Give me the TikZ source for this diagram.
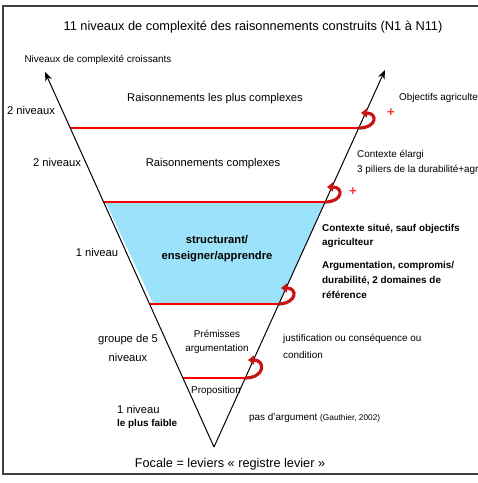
\documentclass[tikz,border=0pt]{standalone}
\usepackage{fontspec}
\setmainfont{Liberation Sans}
\usetikzlibrary{arrows.meta}
\definecolor{skyfill}{RGB}{155,226,250}
\definecolor{curlred}{RGB}{200,20,20}
\tikzset{
  frame/.style={draw=black!75, line width=1.3pt},
  axis/.style={draw=black, line width=1pt, -{Stealth[length=9pt,width=7pt]}},
  level/.style={draw=red, line width=2pt},
  curlarrow/.style={draw=curlred, line width=3.2pt, -{Triangle[length=6pt,width=9pt]}},
  plus/.style={text=red!80, font=\fontsize{13}{13}\selectfont\bfseries, inner sep=0pt},
  lbl/.style={inner sep=0pt, font=\fontsize{11.2}{13}\selectfont},
  small/.style={inner sep=0pt, font=\fontsize{9.9}{12}\selectfont},
  bsmall/.style={inner sep=0pt, font=\fontsize{9.9}{12}\selectfont\bfseries, anchor=west},
}
\begin{document}
\begin{tikzpicture}[x=1pt,y=-1pt]
\useasboundingbox (0,0) rectangle (478,483);
% frame
\draw[frame] (480,6) -- (3,6) -- (3,474) -- (480,474);
% key points
\coordinate (apex) at (214,447);
\coordinate (ltip) at (45,72);
\coordinate (rtip) at (385,70);
\coordinate (l1) at (70,128);   \coordinate (r1) at (359,128);
\coordinate (l2) at (104,202);  \coordinate (r2) at (325,202);
\coordinate (l3) at (150,304);  \coordinate (r3) at (279,304);
\coordinate (l4) at (183,378);  \coordinate (r4) at (245,378);
% blue band
\fill[skyfill] (106,203) -- (324,203) -- (279,303) -- (153,303) -- cycle;
% level lines
\draw[level] (l1) -- (r1);
\draw[level] (l2) -- (r2);
\draw[level] (l3) -- (r3);
\draw[level] (l4) -- (r4);
% axes
\draw[axis] (apex) -- (ltip);
\draw[axis] (apex) -- (rtip);
% curls
\draw[curlarrow] (r1) .. controls (377,128) and (378,113) .. (361,113);
\draw[curlarrow] (r2) .. controls (343,202) and (344,187) .. (327,187);
\draw[curlarrow] (r3) .. controls (297,303) and (298,288) .. (281,288);
\draw[curlarrow] (r4) .. controls (265,378) and (266,360) .. (248,360);
\node[plus] (p1) at (391,113) {+};
\node[plus] (p2) at (353,192) {+};
% texts
\node[inner sep=0pt, font=\fontsize{12.8}{15}\selectfont] (title) at (253,27) {11 niveaux de complexité des raisonnements construits (N1 à N11)};
\node[small] (croiss) at (98,60) {Niveaux de complexité croissants};
\node[lbl] (n2a) at (31,110) {2 niveaux};
\node[lbl] (rpc) at (215,99) {Raisonnements les plus complexes};
\node[small, anchor=west] (obj) at (399,98) {Objectifs agriculte};
\node[lbl] (n2b) at (57,162) {2 niveaux};
\node[lbl] (rc) at (213,164) {Raisonnements complexes};
\node[small, anchor=west] (ctx1) at (357,155) {Contexte élargi};
\node[small, anchor=west] (ctx2) at (357,170) {3 piliers de la durabilité+agr};
\node[lbl] (n1a) at (97,252) {1 niveau};
\node[inner sep=0pt, font=\fontsize{11.2}{13}\selectfont\bfseries] (s1) at (217,240) {structurant/};
\node[inner sep=0pt, font=\fontsize{11.2}{13}\selectfont\bfseries] (s2) at (217,257) {enseigner/apprendre};
\node[bsmall] (b1) at (322,229) {Contexte situé, sauf objectifs};
\node[bsmall] (b2) at (322,243) {agriculteur};
\node[bsmall] (b3) at (322,266) {Argumentation, compromis/};
\node[bsmall] (b4) at (322,281) {durabilité, 2 domaines de};
\node[bsmall] (b5) at (322,295) {référence};
\node[lbl] (g1) at (128,340) {groupe de 5};
\node[lbl] (g2) at (128,357) {niveaux};
\node[small] (pr1) at (217,334) {Prémisses};
\node[small] (pr2) at (217,349) {argumentation};
\node[small, anchor=west] (j1) at (283,339) {justification ou conséquence ou};
\node[small, anchor=west] (j2) at (283,355) {condition};
\node[small] (prop) at (216,391) {Proposition};
\node[lbl, anchor=west] (n1b) at (117,409) {1 niveau};
\node[bsmall] (faible) at (117,424) {le plus faible};
\node[small, anchor=west] (pas) at (249,418) {pas d'argument {\fontsize{8.3}{10}\selectfont(Gauthier, 2002)}};
\node[inner sep=0pt, font=\fontsize{12.7}{15}\selectfont] (focale) at (230,464) {Focale = leviers « registre levier »};
\end{tikzpicture}
\end{document}
